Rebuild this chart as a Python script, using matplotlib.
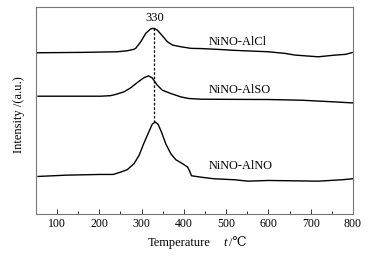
import numpy as np
import matplotlib
matplotlib.use("Agg")
import matplotlib.pyplot as plt

plt.rcParams['font.family'] = ['Liberation Serif', 'DejaVu Serif']

# curves (temperature in C, intensity in arbitrary units)
t_alcl = [50, 162, 242, 266, 281, 286, 298, 310, 321, 329, 337, 349, 361, 373, 393, 417, 441,
          480, 520, 600, 639, 663, 695, 718, 758, 782, 800]
y_alcl = [160.3, 160.7, 161.3, 162.3, 163.7, 164.7, 171.3, 179.7, 184, 184.7, 183, 177.3, 171.3,
          168, 166.3, 164.7, 164.5, 163.7, 162.7, 161.3, 159.7, 158, 157, 156.3, 158, 158.7, 160.7]

t_also = [55, 202, 226, 238, 258, 274, 290, 305, 316, 325, 337, 349, 369, 393, 412, 441, 600, 679, 758, 800]
y_also = [117, 117, 117.5, 118.7, 121.3, 125.3, 130.7, 135.3, 137.3, 135.3, 128, 123, 119.7, 116.3,
          114.7, 114, 113.7, 113, 111.3, 110.3]

t_alno = [55, 122, 202, 233, 250, 266, 282, 294, 305, 317, 325, 332, 339, 347, 357, 369, 381, 397,
          409, 413, 418, 440, 471, 520, 552, 600, 718, 774, 800]
y_alno = [37, 38.3, 39, 39, 41.3, 43.7, 49.7, 58, 69.7, 81.3, 89, 91.3, 89, 81.3, 69.7, 59.7, 53.7,
          49.7, 46.3, 43, 37.7, 36.3, 34.7, 33.7, 32.3, 33, 32.3, 33.7, 34.7]

names = ['NiNO-AlCl', 'NiNO-AlSO', 'NiNO-AlNO']
label_y = [171, 123, 47]
peak_t = 330

fig = plt.figure(figsize=(3.82, 2.57), dpi=100)
ax = fig.add_axes([0.094, 0.169, 0.830, 0.804])

ax.plot(t_alcl, y_alcl, color='black', lw=1.0)
ax.plot(t_also, y_also, color='black', lw=1.0)
ax.plot(t_alno, y_alno, color='black', lw=1.0)

# dashed marker from top peak to bottom peak
ax.plot([peak_t, peak_t], [max(y_alcl), max(y_alno)], color='black', lw=0.9, ls=(0, (2, 1.5)))
ax.text(peak_t, 188.5, str(peak_t), ha='center', va='bottom', fontsize=9)

for name, yy in zip(names, label_y):
    ax.text(459, yy, name, ha='left', va='center', fontsize=8.8)

ax.set_xlim(50, 800)
ax.set_ylim(0, 206)
ax.set_xticks(np.arange(100, 801, 100))
ax.set_xticks(np.arange(150, 800, 100), minor=True)
ax.set_yticks([])
ax.tick_params(axis='x', which='major', direction='in', length=3.5, width=0.7, labelsize=8.5, pad=3,
               color='#333333')
ax.tick_params(axis='x', which='minor', direction='in', length=2, width=0.7, color='#333333')
for s in ax.spines.values():
    s.set_color('#777777')
    s.set_linewidth(0.8)

# axis titles
ty = 1 - 243 / 257
fig.text(148 / 382, ty, 'Temperature', ha='left', va='center', fontsize=9)
fig.text(223 / 382, ty, 't', ha='left', va='center', fontsize=9, style='italic')
fig.text(229 / 382, ty, '/\u2103', ha='left', va='center', fontsize=9)
fig.text(19 / 382, 1 - 115 / 257, 'Intensity /(a.u.)', rotation=90, ha='center', va='center', fontsize=9)

fig.savefig('out.png', dpi=100)
